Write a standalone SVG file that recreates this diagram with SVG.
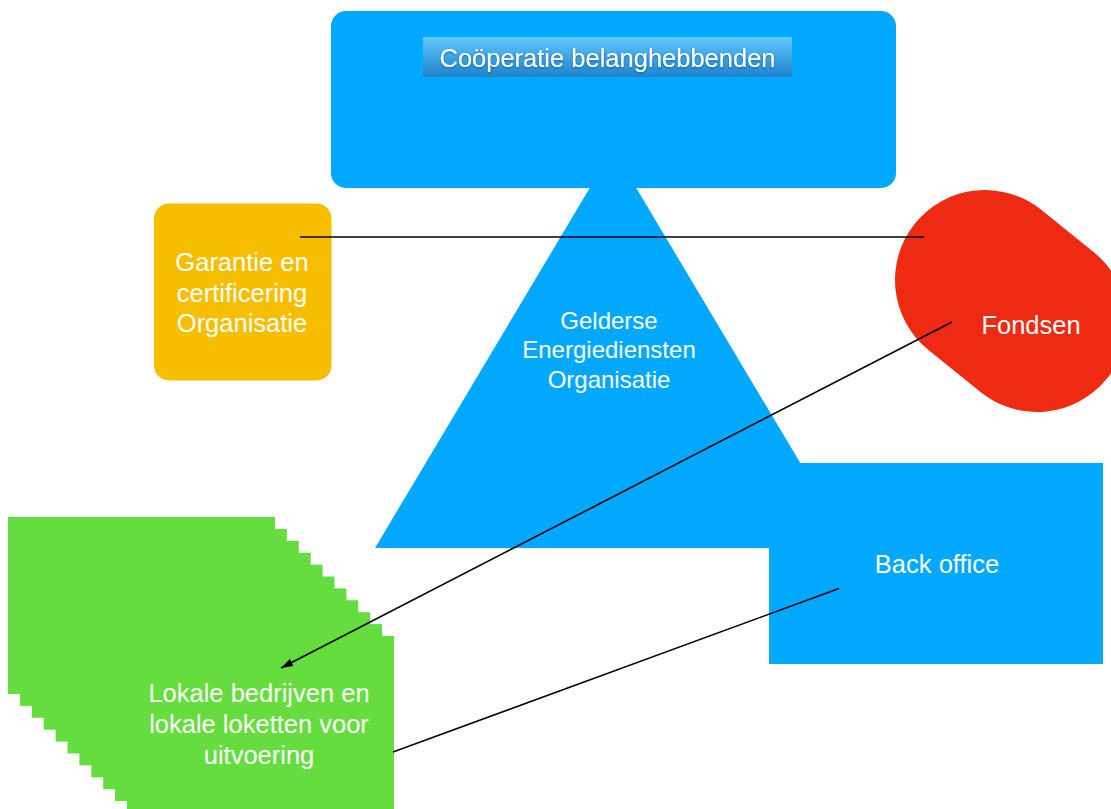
<svg xmlns="http://www.w3.org/2000/svg" width="1111" height="809" viewBox="0 0 1111 809">
  <defs>
    <linearGradient id="lblGrad" x1="0" y1="0" x2="0" y2="1">
      <stop offset="0" stop-color="#62c6ff"/>
      <stop offset="1" stop-color="#1d83cb"/>
    </linearGradient>
    <filter id="glow" x="-10%" y="-30%" width="120%" height="160%">
      <feDropShadow dx="0" dy="1" stdDeviation="1" flood-color="#0a4f80" flood-opacity="0.7"/>
    </filter>
    <marker id="arrow" markerUnits="userSpaceOnUse" markerWidth="14" markerHeight="10" refX="12" refY="5" orient="auto">
      <path d="M0,1 L12,5 L0,9 Z" fill="#000"/>
    </marker>
  </defs>
  <style>
    .lbl { font-family: "Liberation Sans", Arial, sans-serif; fill: #ffffff; text-anchor: middle; }
    .blue { fill: #00a8ff; }
    .conn { stroke: #000; stroke-width: 1.6; fill: none; }
    .green { fill: #66dd3f; }
  </style>
  <rect width="1111" height="809" fill="#ffffff"/>

  <g id="gelderse">
    <polygon class="blue" points="613,149 375,548 851,548"/>
    <text class="lbl" font-size="24" x="609" y="329">Gelderse</text>
    <text class="lbl" font-size="24" x="609" y="358">Energiediensten</text>
    <text class="lbl" font-size="24" x="609" y="388">Organisatie</text>
  </g>

  <g id="cooperatie">
    <rect class="blue" x="331" y="11" width="565" height="177" rx="15" ry="15"/>
    <rect x="423" y="37" width="369" height="40" fill="url(#lblGrad)"/>
    <text class="lbl" font-size="25.5" x="607.5" y="66.5" filter="url(#glow)">Coöperatie belanghebbenden</text>
  </g>

  <g id="backoffice">
    <rect class="blue" x="769" y="463" width="334" height="201"/>
    <text class="lbl" font-size="25.5" x="937" y="573">Back office</text>
  </g>

  <g id="garantie">
    <rect x="154" y="203.5" width="177.5" height="177" rx="15" ry="15" fill="#f7be00"/>
    <text class="lbl" font-size="25.5" x="242" y="271">Garantie en</text>
    <text class="lbl" font-size="25.5" x="242" y="301.5">certificering</text>
    <text class="lbl" font-size="25.5" x="242" y="332">Organisatie</text>
  </g>

  <g id="fondsen">
    <rect x="887.6" y="211" width="246.8" height="180" rx="90" ry="90" fill="#ef2a12" transform="rotate(38.9 1011 301)"/>
    <text class="lbl" font-size="25.5" x="1031" y="334">Fondsen</text>
  </g>

  <g id="lokale">
    <rect class="green" x="8" y="517" width="267" height="177"/>
    <rect class="green" x="19.9" y="528.9" width="267" height="177"/>
    <rect class="green" x="31.8" y="540.8" width="267" height="177"/>
    <rect class="green" x="43.7" y="552.7" width="267" height="177"/>
    <rect class="green" x="55.6" y="564.6" width="267" height="177"/>
    <rect class="green" x="67.5" y="576.5" width="267" height="177"/>
    <rect class="green" x="79.4" y="588.4" width="267" height="177"/>
    <rect class="green" x="91.3" y="600.3" width="267" height="177"/>
    <rect class="green" x="103.2" y="612.2" width="267" height="177"/>
    <rect class="green" x="115.1" y="624.1" width="267" height="177"/>
    <rect class="green" x="127" y="636" width="267" height="177"/>
    <text class="lbl" font-size="25.5" x="259" y="702">Lokale bedrijven en</text>
    <text class="lbl" font-size="25.5" x="259" y="733">lokale loketten voor</text>
    <text class="lbl" font-size="25.5" x="259" y="764">uitvoering</text>
  </g>

  <g id="connectors">
    <line class="conn" x1="300" y1="237" x2="924" y2="237"/>
    <line class="conn" x1="952" y1="322" x2="281" y2="668" marker-end="url(#arrow)"/>
    <line class="conn" x1="839" y1="588.5" x2="393" y2="752"/>
  </g>
</svg>
